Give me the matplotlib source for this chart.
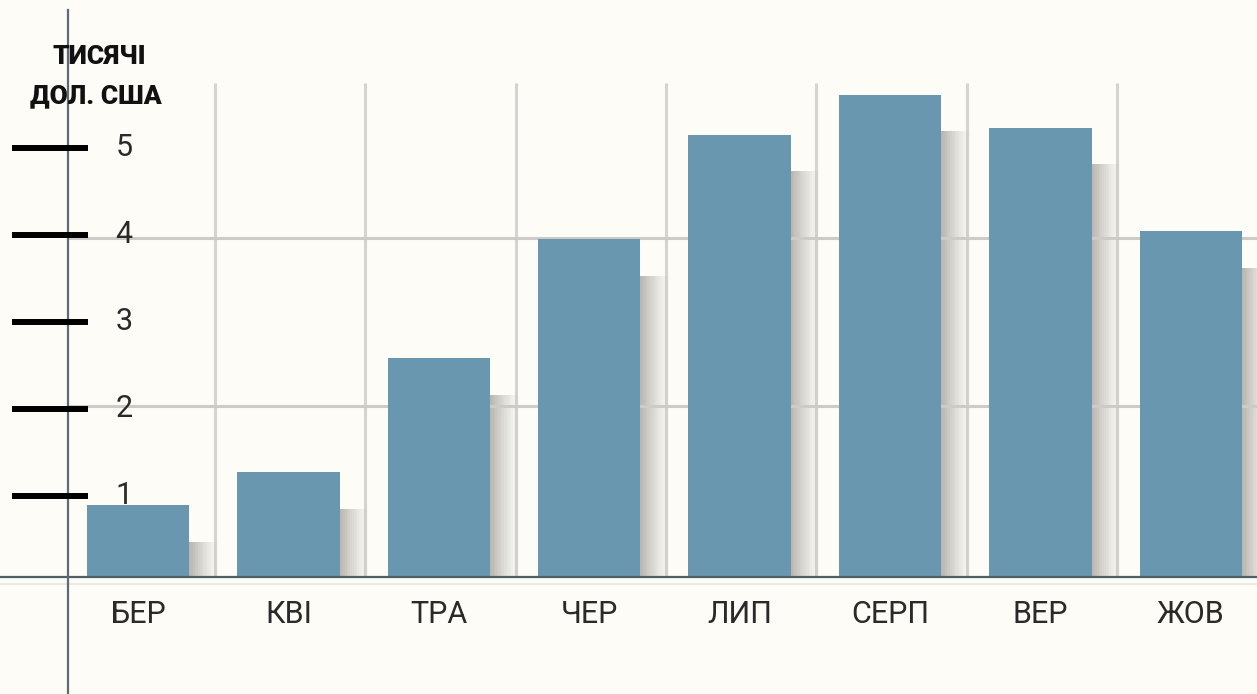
import matplotlib
matplotlib.use("Agg")
import matplotlib.pyplot as plt
import numpy as np

months = ["БЕР", "КВІ", "ТРА", "ЧЕР", "ЛИП", "СЕРП", "ВЕР", "ЖОВ"]
values = [0.83, 1.21, 2.52, 3.89, 5.09, 5.55, 5.17, 3.98]
yticks = [1, 2, 3, 4, 5]
title_lines = ["ТИСЯЧІ", "ДОЛ. США"]

bg = "#fdfcf7"
bar_color = "#6a97b0"

fig = plt.figure(figsize=(12.57, 6.94), dpi=100, facecolor=bg)
ax = fig.add_axes([0, 0, 1, 1])
ax.set_facecolor(bg)
ax.set_xlim(-0.9176, 7.44)
ax.set_ylim(-1.310, 6.667)
ax.axis("off")

x = np.arange(len(months))
w = 0.68

# vertical gridlines
for i in range(len(months) - 1):
    ax.plot([i + 0.51, i + 0.51], [0.03, 5.71], color="#d6d4d1", lw=2.2, zorder=1, solid_capstyle="butt")

# shadows
n = 16
sw = 0.19
for k in range(n):
    a = 0.6 * (1 - k / n) ** 1.2
    for xi, v in zip(x, values):
        h = max(v - 0.42, 0)
        ax.bar(xi + w / 2 + k * sw / n, h, width=sw / n, align="edge", bottom=0.03,
               color="#8f8a86", alpha=a, lw=0, zorder=2)

# horizontal gridlines
for gy in [3.93, 2.0]:
    ax.plot([-0.465, 7.44], [gy, gy], color="#cdcbc8", lw=2.2, zorder=3)

# bars
ax.bar(x, values, width=w, color=bar_color, lw=0, zorder=4, bottom=0.03)

# baseline
ax.plot([-0.92, 7.44], [0.03, 0.03], color="#4f5f66", lw=1.6, zorder=5)
ax.plot([-0.92, 7.44], [-0.04, -0.04], color="#e6e6e2", lw=1.2, zorder=5)

# vertical axis line
ax.plot([-0.465, -0.465], [-1.31, 6.55], color="#5a6c74", lw=1.6, zorder=5)

# tick marks and labels
for t in yticks:
    ax.plot([-0.838, -0.332], [t - 0.03, t - 0.03], color="black", lw=4.3, zorder=6, solid_capstyle="butt")
    ax.text(-0.15, t - 0.03, str(t), fontsize=22, family="Roboto", fontweight="normal",
            color="#2a2a2a", ha="left", va="center", zorder=7)

# month labels
for xi, m in zip(x, months):
    ax.text(xi, -0.40, m, fontsize=22, family="Roboto", fontweight="normal",
            color="#2a2a2a", ha="center", va="center", zorder=7)

# title
ax.text(-0.26, 6.01, title_lines[0], fontsize=19, family="Roboto", fontweight="black",
        color="#111111", ha="center", va="center", zorder=7)
ax.text(-0.28, 5.56, title_lines[1], fontsize=19, family="Roboto", fontweight="black",
        color="#111111", ha="center", va="center", zorder=7)

fig.savefig("out.png", dpi=100, facecolor=bg)
